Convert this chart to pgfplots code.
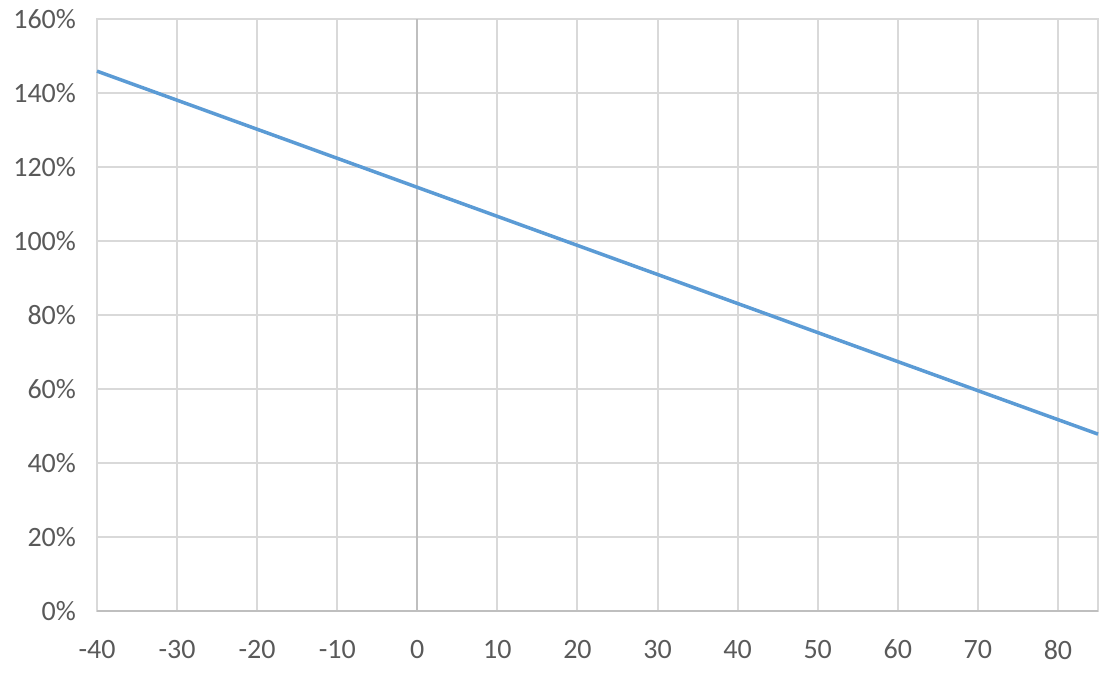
\documentclass[border=0pt]{standalone}
\usepackage{pgfplots}
\pgfplotsset{compat=1.18}
\usepackage{fontspec}
\setmainfont{Carlito}
\definecolor{gridc}{HTML}{D9D9D9}
\definecolor{axisc}{HTML}{BFBFBF}
\definecolor{labc}{HTML}{595959}
\definecolor{linec}{HTML}{5B9BD5}
\begin{document}
\begin{tikzpicture}
\begin{axis}[
  scale only axis,
  width=500.5pt, height=296pt,
  xmin=-40, xmax=85, ymin=0, ymax=160,
  xtick={-40,-30,...,80},
  xticklabels={-40,-30,-20,-10,0,10,20,30,40,50,60,70,80},
  ytick={0,20,...,160},
  yticklabels={0\%,20\%,40\%,60\%,80\%,100\%,120\%,140\%,160\%},
  major tick length=0pt,
  grid=major,
  major grid style={gridc, line width=1pt},
  axis line style={gridc, line width=1pt},
  tick label style={font=\fontsize{14}{16}\selectfont, text=labc},
  xticklabel style={yshift=-11pt},
  yticklabel style={xshift=-7pt},
  clip=false,
]
\draw[axisc, line width=1pt] (axis cs:0,0) -- (axis cs:0,160);
\draw[axisc, line width=1.2pt] (axis cs:-40,0) -- (axis cs:85,0);
\addplot[linec, line width=1.75pt] coordinates {
  (-40,145.9) (-20,130.2) (0,114.5) (20,98.8) (40,83.1) (60,67.4) (70,59.55) (85,47.8)
};
\end{axis}
\pgfresetboundingbox
\path[use as bounding box] ([xshift=-48.5pt,yshift=-33pt]current axis.south west) rectangle ([xshift=10pt,yshift=9.5pt]current axis.north east);
\end{tikzpicture}
\end{document}
